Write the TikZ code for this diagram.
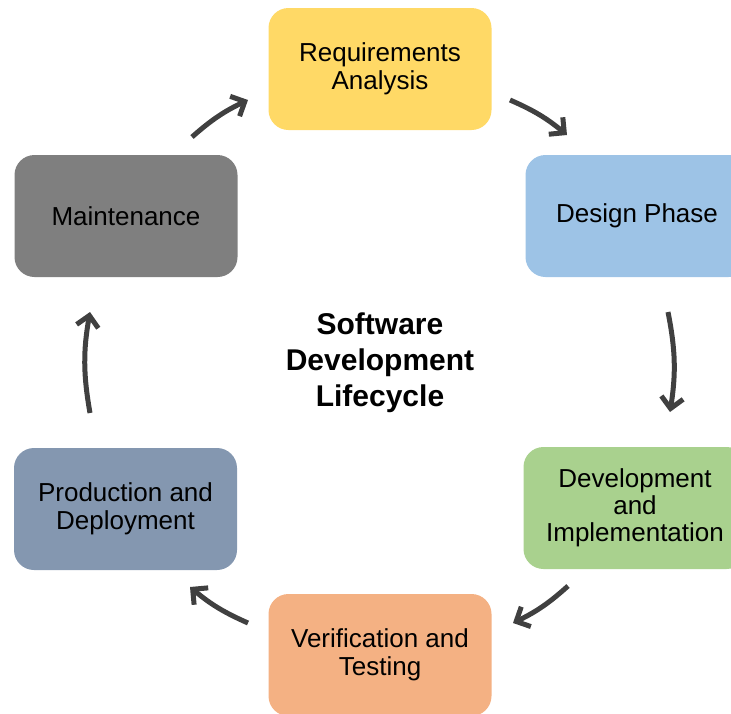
\documentclass[tikz,border=0pt]{standalone}
\usepackage{fontspec}
\setmainfont{Liberation Sans}
\usepackage{tikz}
\usetikzlibrary{arrows.meta}
\tikzset{>={Straight Barb[length=11pt,width=22pt]}}
\definecolor{reqcol}{HTML}{FFD966}
\definecolor{designcol}{HTML}{9DC3E6}
\definecolor{devcol}{HTML}{A9D18E}
\definecolor{verifcol}{HTML}{F4B183}
\definecolor{prodcol}{HTML}{8497B0}
\definecolor{maintcol}{HTML}{7F7F7F}
\definecolor{arrowcol}{HTML}{404040}

\begin{document}
\begin{tikzpicture}[x=1pt, y=-1pt,
		phase/.style={rounded corners=20pt, minimum width=223pt, minimum height=122pt,
			inner sep=0pt, align=center, text=black, font=\fontsize{26}{28}\selectfont}]
		\useasboundingbox (0,0) rectangle (731,713);
		\clip (0,0) rectangle (731,713);
		\node (req) [phase, fill=reqcol] at (380,69) {Requirements\\Analysis};
		\node (design) [phase, fill=designcol] at (637,216) {Design Phase};
		\node (dev) [phase, fill=devcol, font=\fontsize{26}{27}\selectfont] at (635,508) {Development\\and\\Implementation};
		\node (verif) [phase, fill=verifcol] at (380,655) {Verification and\\Testing};
		\node (prod) [phase, fill=prodcol] at (125.5,509) {Production and\\Deployment};
		\node (maint) [phase, fill=maintcol] at (126,216) {Maintenance};
		\node (title) [align=center, font=\bfseries\fontsize{30}{36}\selectfont] at (380,363) {Software\\Development\\Lifecycle};
		% arrow ends
		\coordinate (maint-out) at (192,137);
		\coordinate (req-in) at (248,100);
		\coordinate (req-out) at (510,100);
		\coordinate (design-in) at (567,135);
		\coordinate (design-out) at (668,312);
		\coordinate (dev-in) at (670,412);
		\coordinate (dev-out) at (568,586);
		\coordinate (verif-in) at (513,623);
		\coordinate (verif-out) at (248,623);
		\coordinate (prod-in) at (190,587);
		\coordinate (prod-out) at (90,413);
		\coordinate (maint-in) at (90,312);
		\path[->, color=arrowcol, line width=5pt]
			(maint-out) edge [bend left=8] (req-in)
			(req-out) edge [bend left=8] (design-in)
			(design-out) edge [bend left=10] (dev-in)
			(dev-out) edge [bend left=8] (verif-in)
			(verif-out) edge [bend left=8] (prod-in)
			(prod-out) edge [bend left=10] (maint-in);
	\end{tikzpicture}
\end{document}
